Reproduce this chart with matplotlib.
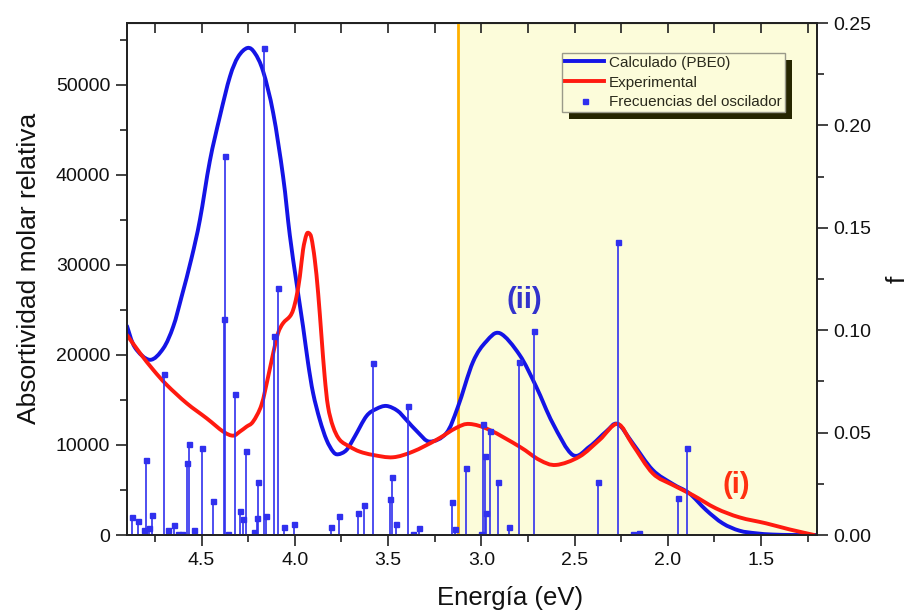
import matplotlib
matplotlib.use("Agg")
import matplotlib.pyplot as plt
from matplotlib.patches import Rectangle, PathPatch
from matplotlib.path import Path
from matplotlib.lines import Line2D
from matplotlib.transforms import IdentityTransform
from matplotlib.ticker import MultipleLocator, FixedLocator
import numpy as np

plt.rcParams['font.family'] = ['Liberation Sans', 'DejaVu Sans']

# ---- data ----
calc_E = [4.900, 4.857, 4.777, 4.706, 4.652, 4.607, 4.554, 4.509, 4.456, 4.402,
          4.348, 4.304, 4.254, 4.215, 4.170, 4.116, 4.063, 4.027, 3.991, 3.956,
          3.929, 3.902, 3.866, 3.830, 3.795, 3.768, 3.723, 3.679, 3.616, 3.563,
          3.509, 3.450, 3.402, 3.340, 3.277, 3.188, 3.126, 3.045, 2.973, 2.900,
          2.795, 2.706, 2.617, 2.510, 2.420, 2.331, 2.269, 2.188, 2.081, 1.974,
          1.885, 1.795, 1.706, 1.616, 1.527, 1.438, 1.322, 1.206]
calc_A = [23200, 20800, 19450, 20700, 23150, 26480, 30740, 35000, 41500, 46480,
          50900, 53100, 54080, 53520, 51480, 46850, 39800, 33300, 28000, 23150,
          19080, 15740, 12780, 10560, 9260, 8960, 9440, 10920, 13200, 14000,
          14330, 13800, 12780, 11400, 10370, 11300, 14200, 19200, 21500, 22400,
          20000, 16480, 12410, 8890, 9810, 11480, 12330, 10190, 7220, 5670,
          4630, 2780, 1300, 480, 190, 50, 0, 0]

exp_E = [4.900, 4.830, 4.759, 4.687, 4.580, 4.473, 4.384, 4.331, 4.295, 4.259,
         4.224, 4.179, 4.143, 4.116, 4.090, 4.063, 4.027, 4.009, 3.991, 3.973,
         3.956, 3.938, 3.925, 3.911, 3.893, 3.875, 3.857, 3.840, 3.822, 3.795,
         3.759, 3.706, 3.652, 3.581, 3.474, 3.367, 3.241, 3.134, 3.063, 2.956,
         2.795, 2.688, 2.599, 2.474, 2.366, 2.269, 2.188, 2.081, 1.974, 1.867,
         1.742, 1.616, 1.474, 1.349, 1.215]
exp_A = [22200, 20190, 18330, 16670, 14630, 12960, 11480, 11030, 11480, 12030,
         12590, 14440, 17590, 20190, 22410, 23520, 24260, 25000, 26480, 28700,
         31670, 33330, 33520, 32970, 30560, 26850, 22030, 17590, 14260, 12030,
         10560, 9810, 9260, 8890, 8630, 9260, 10560, 11900, 12330, 11670,
         9810, 8330, 7780, 8700, 10560, 12330, 10000, 6850, 5560, 4440,
         2960, 1960, 1300, 630, 0]

osc_E = [4.872, 4.840, 4.807, 4.797, 4.782, 4.768, 4.700, 4.682, 4.648, 4.629,
         4.607, 4.580, 4.570, 4.540, 4.497, 4.438, 4.379, 4.375, 4.361, 4.322,
         4.295, 4.277, 4.263, 4.218, 4.205, 4.197, 4.166, 4.152, 4.111, 4.090,
         4.059, 4.007, 3.807, 3.763, 3.661, 3.627, 3.581, 3.491, 3.477, 3.456,
         3.393, 3.367, 3.334, 3.156, 3.143, 3.081, 3.000, 2.992, 2.979, 2.975,
         2.956, 2.911, 2.854, 2.800, 2.719, 2.376, 2.265, 2.188, 2.156, 1.943,
         1.897]
osc_f = [0.0089, 0.0070, 0.0024, 0.0366, 0.0033, 0.0098, 0.0785, 0.0024, 0.0049, 0.0007,
         0.0007, 0.0353, 0.0444, 0.0024, 0.0425, 0.0166, 0.1055, 0.1850, 0.0007, 0.0690,
         0.0117, 0.0080, 0.0410, 0.0013, 0.0081, 0.0260, 0.2380, 0.0093, 0.0973, 0.1206,
         0.0041, 0.0052, 0.0037, 0.0093, 0.0109, 0.0145, 0.0838, 0.0174, 0.0282, 0.0054,
         0.0630, 0.0007, 0.0036, 0.0163, 0.0028, 0.0329, 0.0005, 0.0540, 0.0386, 0.0106,
         0.0508, 0.0257, 0.0037, 0.0846, 0.0996, 0.0257, 0.1431, 0.0007, 0.0009, 0.0179,
         0.0423]

visible_edge = 3.126
x_ticks = [4.5, 4.0, 3.5, 3.0, 2.5, 2.0, 1.5]
y_ticks = [0, 10000, 20000, 30000, 40000, 50000]
f_ticks = [0.00, 0.05, 0.10, 0.15, 0.20, 0.25]


def spline_path(xs, ys):
    """Spline-connected line (like Origin's 'Spline' connect) as cubic Bezier path."""
    p = np.column_stack([xs, ys]).astype(float)
    n = len(p)
    verts = [p[0]]
    codes = [Path.MOVETO]
    for i in range(n - 1):
        p0 = p[i - 1] if i > 0 else p[i]
        p1 = p[i]
        p2 = p[i + 1]
        p3 = p[i + 2] if i + 2 < n else p[i + 1]
        c1 = p1 + (p2 - p0) / 6.0
        c2 = p2 - (p3 - p1) / 6.0
        verts += [c1, c2, p2]
        codes += [Path.CURVE4] * 3
    return Path(np.array(verts), codes)


# ---- figure ----
W, H = 912, 610
fig = plt.figure(figsize=(W / 100, H / 100), dpi=100)
ax = fig.add_axes([127 / W, 1 - 535 / H, (817 - 127) / W, (535 - 23) / H])
ax2 = ax.twinx()

shade = '#FCFCDA'
blue = '#1414E6'
red = '#FF1A10'
stick = '#3030EE'
axc = '#222222'

ax.set_xlim(4.9, 1.2)
ax.set_ylim(0, 56850)
ax2.set_ylim(0, 0.25)

ax.axvspan(visible_edge, 1.2, color=shade, zorder=0, lw=0)
ax.axvline(visible_edge, color='#FFB000', lw=2.0, zorder=1)

ax.add_patch(PathPatch(spline_path(calc_E, calc_A), fill=False, ec=blue, lw=2.8,
                       capstyle='round', joinstyle='round', zorder=3))
ax.add_patch(PathPatch(spline_path(exp_E, exp_A), fill=False, ec=red, lw=2.8,
                       capstyle='round', joinstyle='round', zorder=3))

ax2.vlines(osc_E, 0, osc_f, color=stick, lw=1.2, zorder=2)
osc_h, = ax2.plot(osc_E, osc_f, 's', color=stick, ms=3.6, mec=stick, zorder=2,
                  label='Frecuencias del oscilador')

# ticks
ax.xaxis.set_major_locator(FixedLocator(x_ticks))
ax.xaxis.set_minor_locator(MultipleLocator(0.25))
ax.set_xticklabels([f'{v:.1f}' for v in x_ticks])
ax.yaxis.set_major_locator(FixedLocator(y_ticks))
ax.yaxis.set_minor_locator(MultipleLocator(5000))
ax.set_yticklabels([str(v) for v in y_ticks])
ax2.yaxis.set_major_locator(FixedLocator(f_ticks))
ax2.yaxis.set_minor_locator(MultipleLocator(0.025))
ax2.set_yticklabels([f'{v:.2f}' for v in f_ticks])

for a in (ax, ax2):
    for s in a.spines.values():
        s.set_color(axc)
        s.set_linewidth(1.3)
    a.tick_params(which='major', direction='out', length=8, width=1.2, color=axc,
                  labelsize=14, labelcolor='#111111', pad=4)
    a.tick_params(which='minor', direction='out', length=5, width=1.2, color=axc)

top = ax.secondary_xaxis('top')
top.xaxis.set_major_locator(MultipleLocator(0.25))
top.tick_params(which='major', direction='in', length=7, width=1.2, color=axc,
                labeltop=False)
top.tick_params(which='minor', length=0)
top.set_xticklabels([])

ax.set_xlabel('Energía (eV)', fontsize=18.5, color='#111111')
ax.xaxis.set_label_coords(0.555, -0.100)
ax.set_ylabel('Absortividad molar relativa', fontsize=19, color='#111111')
ax.yaxis.set_label_coords(-0.125, 0.52)
ax2.set_ylabel('f', fontsize=19, color='#111111', labelpad=10, rotation=90)

ax.text(2.77, 26100, '(ii)', color='#3333CC', fontsize=21, fontweight='bold',
        ha='center', va='center', zorder=5)
ax.text(1.63, 5600, '(i)', color='#FF3010', fontsize=21, fontweight='bold',
        ha='center', va='center', zorder=5)

calc_h = Line2D([], [], color=blue, lw=2.8)
exp_h = Line2D([], [], color=red, lw=2.8)
leg = ax2.legend([calc_h, exp_h, osc_h],
                 ['Calculado (PBE0)', 'Experimental', 'Frecuencias del oscilador'],
                 loc='upper left', bbox_to_anchor=(0.630, 0.942), borderaxespad=0,
                 fontsize=11, handlelength=2.6, handletextpad=0.3,
                 labelspacing=0.38, borderpad=0.2, fancybox=False,
                 framealpha=1, facecolor=shade, edgecolor='#9A9A8A',
                 markerscale=1.0)
leg.get_frame().set_linewidth(1.0)
for t in leg.get_texts():
    t.set_color('#2A2A1C')
leg.set_zorder(10)

fig.canvas.draw()
bb = leg.get_window_extent()
shadow = Rectangle((bb.x0 + 7, bb.y0 - 7), bb.width, bb.height,
                   transform=IdentityTransform(), facecolor='#262600',
                   edgecolor='none', zorder=9, clip_on=False)
ax2.add_artist(shadow)

fig.savefig('out.png', dpi=100)
